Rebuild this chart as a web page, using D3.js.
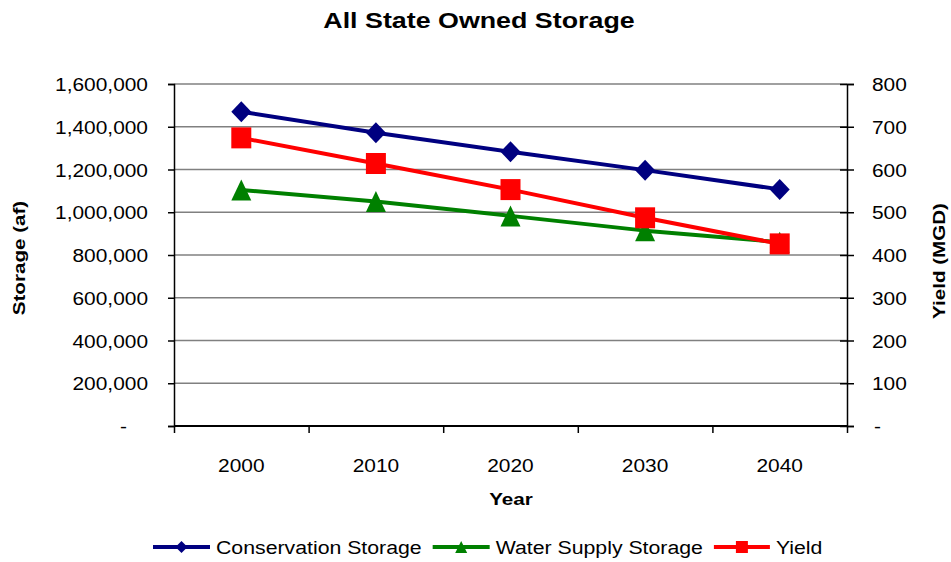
<!DOCTYPE html>
<html>
<head>
<meta charset="utf-8">
<script src="https://cdn.jsdelivr.net/npm/d3@7"></script>
<style>
  html, body { margin: 0; padding: 0; background: #fff; }
  svg { display: block; font-family: "Liberation Sans", Arial, Helvetica, sans-serif; }
</style>
</head>
<body>
<svg id="chart" width="951" height="562"></svg>
<script>
// ---- data ----
const years = ["2000", "2010", "2020", "2030", "2040"];
const conservationStorage = [1470000, 1372000, 1283000, 1197000, 1107000]; // af
const waterSupplyStorage = [1104000, 1050000, 983000, 914000, 860000];      // af
const yieldMGD = [674, 614, 553, 487, 426];                                 // MGD
const storageTicks = [0, 200000, 400000, 600000, 800000, 1000000, 1200000, 1400000, 1600000];
const yieldTicks = [0, 100, 200, 300, 400, 500, 600, 700, 800];
const seriesNames = ["Conservation Storage", "Water Supply Storage", "Yield"];

// ---- layout ----
const W = 951, H = 562;
const plot = { left: 174, right: 847, top: 84, bottom: 426 };
const colors = { cons: "#000080", water: "#008000", yield: "#ff0000" };

const svg = d3.select("#chart");

const x = d3.scaleBand().domain(years).range([plot.left, plot.right]).padding(0);
const xEdges = d3.scaleLinear().domain([0, years.length]).range([plot.left, plot.right]);
const yL = d3.scaleLinear().domain([0, 1600000]).range([plot.bottom, plot.top]);
const yR = d3.scaleLinear().domain([0, 800]).range([plot.bottom, plot.top]);
const cx = d => x(d) + x.bandwidth() / 2;

// horizontally widened text (the chart's lettering runs wide)
function wideText(parent, txt, px, py, opts) {
  const s = opts.stretch || 1.1;
  const rot = opts.rotate ? ` rotate(${opts.rotate})` : "";
  return parent.append("text")
    .attr("transform", `translate(${px},${py})${rot} scale(${s},1)`)
    .attr("text-anchor", opts.anchor || "start")
    .attr("font-size", opts.size || 19)
    .attr("font-weight", opts.weight || "normal")
    .attr("fill", "#000")
    .text(txt);
}

// ---- gridlines ----
svg.append("g")
  .selectAll("line")
  .data(storageTicks.filter(v => v > 0))
  .join("line")
  .attr("x1", plot.left).attr("x2", plot.right)
  .attr("y1", d => yL(d)).attr("y2", d => yL(d))
  .attr("stroke", "#808080").attr("stroke-width", 1.5);

// ---- left axis ----
const leftAxis = svg.append("g")
  .attr("transform", `translate(${plot.left},0)`)
  .call(d3.axisLeft(yL).tickValues(storageTicks).tickSize(6).tickPadding(0)
    .tickFormat(d => d === 0 ? "-" : d3.format(",")(d)));
leftAxis.select(".domain").attr("stroke", "#000").attr("stroke-width", 1.5);
leftAxis.selectAll(".tick line").attr("stroke", "#000").attr("stroke-width", 1.5);
leftAxis.selectAll(".tick text")
  .attr("font-size", 19).attr("font-family", null).attr("fill", "#000")
  .attr("dy", "0.35em")
  .attr("x", d => (d === 0 ? -47 : -26) / 1.1)
  .attr("transform", "scale(1.1,1)");

// ---- right axis ----
const rightAxis = svg.append("g")
  .attr("transform", `translate(${plot.right},0)`)
  .call(d3.axisRight(yR).tickValues(yieldTicks).tickSize(7).tickPadding(0)
    .tickFormat(d => d === 0 ? "-" : d3.format("d")(d)));
rightAxis.select(".domain").attr("stroke", "#000").attr("stroke-width", 1.5);
rightAxis.selectAll(".tick line").attr("stroke", "#000").attr("stroke-width", 1.5)
  .attr("x1", -7);
rightAxis.selectAll(".tick text")
  .attr("font-size", 19).attr("font-family", null).attr("fill", "#000")
  .attr("dy", "0.35em")
  .attr("x", d => (d === 0 ? 27 : 25) / 1.1)
  .attr("transform", "scale(1.1,1)");

// ---- bottom axis: line, boundary ticks, category labels ----
const bottom = svg.append("g").attr("transform", `translate(0,${plot.bottom})`);
bottom.call(d3.axisBottom(xEdges).tickValues(d3.range(years.length + 1)).tickSize(7).tickFormat(""));
bottom.select(".domain").attr("stroke", "#000").attr("stroke-width", 2)
  .attr("d", `M${plot.left},0H${plot.right}`);
bottom.selectAll(".tick line").attr("stroke", "#000").attr("stroke-width", 1.5);

const xLabels = svg.append("g")
  .attr("transform", `translate(0,${plot.bottom})`)
  .call(d3.axisBottom(x).tickSize(0).tickPadding(0));
xLabels.select(".domain").remove();
xLabels.selectAll(".tick text")
  .attr("font-size", 19).attr("font-family", null).attr("fill", "#000")
  .attr("y", 46).attr("dy", 0)
  .attr("transform", "scale(1.1,1)")
  .attr("x", 0);
// scale about each tick's own origin: tick groups are translated, so x=0 stays centred
xLabels.selectAll(".tick text").attr("text-anchor", "middle");

// ---- marker shapes ----
function markerPath(kind, w, h) {
  const a = w / 2, b = h / 2;
  if (kind === "diamond") return `M0,${-b}L${a},0L0,${b}L${-a},0Z`;
  if (kind === "triangle") return `M0,${-b}L${a},${b}L${-a},${b}Z`;
  return `M${-a},${-b}H${a}V${b}H${-a}Z`;
}

const series = [
  { name: seriesNames[0], values: conservationStorage, y: yL, color: colors.cons, marker: "diamond" },
  { name: seriesNames[1], values: waterSupplyStorage, y: yL, color: colors.water, marker: "triangle" },
  { name: seriesNames[2], values: yieldMGD, y: yR, color: colors.yield, marker: "square" }
];

series.forEach(s => {
  const pts = years.map((yr, i) => [cx(yr), s.y(s.values[i])]);
  svg.append("path")
    .attr("d", d3.line()(pts))
    .attr("fill", "none").attr("stroke", s.color).attr("stroke-width", 4)
    .attr("stroke-linejoin", "round");
  svg.append("g").selectAll("path")
    .data(pts)
    .join("path")
    .attr("transform", d => `translate(${d[0]},${d[1]})`)
    .attr("d", markerPath(s.marker, 20, 21))
    .attr("fill", s.color);
});

// ---- titles ----
wideText(svg, "All State Owned Storage", 479, 28, { anchor: "middle", size: 22, weight: "bold", stretch: 1.22 });
wideText(svg, "Storage (af)", 25, 258, { anchor: "middle", size: 16.5, weight: "bold", stretch: 1.25, rotate: -90 });
wideText(svg, "Yield (MGD)", 945, 261, { anchor: "middle", size: 16.5, weight: "bold", stretch: 1.25, rotate: -90 });
wideText(svg, "Year", 511, 505, { anchor: "middle", size: 16.5, weight: "bold", stretch: 1.25 });

// ---- legend ----
const legend = svg.append("g");
let lx = 153;
const ly = 547;
series.forEach((s, i) => {
  const len = i === 2 ? 56 : 57;
  legend.append("line")
    .attr("x1", lx).attr("x2", lx + len).attr("y1", ly).attr("y2", ly)
    .attr("stroke", s.color).attr("stroke-width", 4);
  legend.append("path")
    .attr("transform", `translate(${lx + len / 2},${ly})`)
    .attr("d", markerPath(s.marker, 12, 12))
    .attr("fill", s.color);
  const t = wideText(legend, s.name, lx + len + 6, 554, { size: 19, stretch: 1.12 });
  const w = t.node().getComputedTextLength() * 1.12;
  lx = lx + len + 6 + w + 11;
});
</script>
</body>
</html>
